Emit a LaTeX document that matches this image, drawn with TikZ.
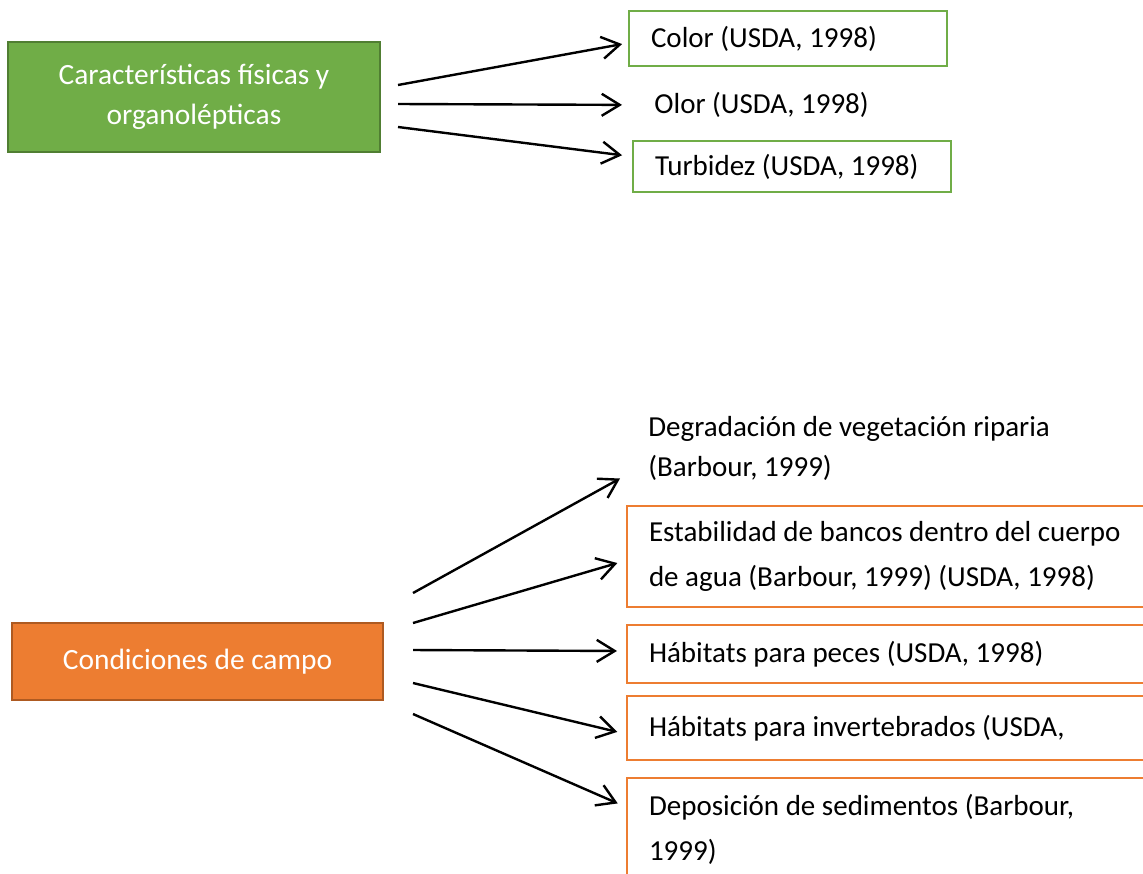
\documentclass[tikz,border=0pt]{standalone}
\usepackage{fontspec}
\setmainfont{Carlito}
\usepackage{tikz}
\usetikzlibrary{arrows.meta, positioning}
\definecolor{LeafGreen}{HTML}{70AD47}
\definecolor{LeafGreenDark}{HTML}{507E32}
\definecolor{RustOrange}{HTML}{ED7D31}
\definecolor{RustOrangeDark}{HTML}{AE5A21}
\tikzset{
  % Box styles
  mainbox/.style={rectangle, line width=1pt, text=white, align=center, inner sep=0pt, font=\fontsize{14.7}{20}\selectfont},
  greenmain/.style={mainbox, draw=LeafGreenDark, fill=LeafGreen},
  orangemain/.style={mainbox, draw=RustOrangeDark, fill=RustOrange},
  itembox/.style={rectangle, line width=1pt, anchor=north west, align=flush left, inner xsep=11pt, inner ysep=0pt, font=\fontsize{14.5}{22.5}\selectfont},
  greenitem/.style={itembox, draw=LeafGreen, text width=137pt},
  orangeitem/.style={itembox, draw=RustOrange, text width=245pt},
  plainitem/.style={anchor=west, align=flush left, inner sep=0pt, font=\fontsize{14.5}{20}\selectfont},
  % Arrow styles
  arrow/.style={-{Straight Barb[length=9pt, width=11pt]}, line width=1.2pt, black}
}
\begin{document}
\begin{tikzpicture}[x=0.5pt, y=-0.5pt]
  \useasboundingbox (0,0) rectangle (1143,873);
  \clip (0,0) rectangle (1143,873);

  % Physical characteristics
  \node[greenmain, minimum width=186pt, minimum height=55pt] (fis) at (194,97) {Características físicas y\\organolépticas};
  \node[greenitem, minimum height=27.5pt] (col) at (628,10) {Color (USDA, 1998)};
  \node[plainitem] (olor) at (654,105) {Olor (USDA, 1998)};
  \node[greenitem, minimum height=25.5pt] (tur) at (632,140) {Turbidez (USDA, 1998)};

  \coordinate (f1) at (398,85);
  \coordinate (f2) at (398,104);
  \coordinate (f3) at (398,127);
  \draw[arrow, shorten >=3pt] (f1) -- ([yshift=-2.25pt]col.west);
  \draw[arrow, shorten >=16pt] (f2) -- (olor.west);
  \draw[arrow, shorten >=5pt] (f3) -- ([yshift=5pt]tur.west);

  % Field conditions
  \node[orangemain, minimum width=185.5pt, minimum height=38.5pt] (cond) at (197.5,661.5) {Condiciones de campo};
  \node[plainitem] (deg) at (648,448) {Degradación de vegetación riparia\\(Barbour, 1999)};
  \node[orangeitem, minimum height=50.5pt] (est) at (626,505) {Estabilidad de bancos dentro del cuerpo\\de agua (Barbour, 1999) (USDA, 1998)};
  \node[orangeitem, minimum height=29pt] (pec) at (626,624) {Hábitats para peces (USDA, 1998)};
  \node[orangeitem, minimum height=32pt] (inv) at (626,695) {Hábitats para invertebrados (USDA,};
  \node[orangeitem, minimum height=51pt] (dep) at (626,777) {Deposición de sedimentos (Barbour,\\1999)};

  \coordinate (c1) at (413,593);
  \coordinate (c2) at (413,623);
  \coordinate (c3) at (413,650);
  \coordinate (c4) at (413,683);
  \coordinate (c5) at (413,714);
  \draw[arrow, shorten >=16pt] (c1) -- ([yshift=-7.5pt]deg.west);
  \draw[arrow, shorten >=4.5pt] (c2) -- ([yshift=-2pt]est.west);
  \draw[arrow, shorten >=4.5pt] (c3) -- ([yshift=1.5pt]pec.west);
  \draw[arrow, shorten >=4.5pt] (c4) -- ([yshift=-3pt]inv.west);
  \draw[arrow, shorten >=4.5pt] (c5) -- ([yshift=11pt]dep.west);
\end{tikzpicture}
\end{document}
